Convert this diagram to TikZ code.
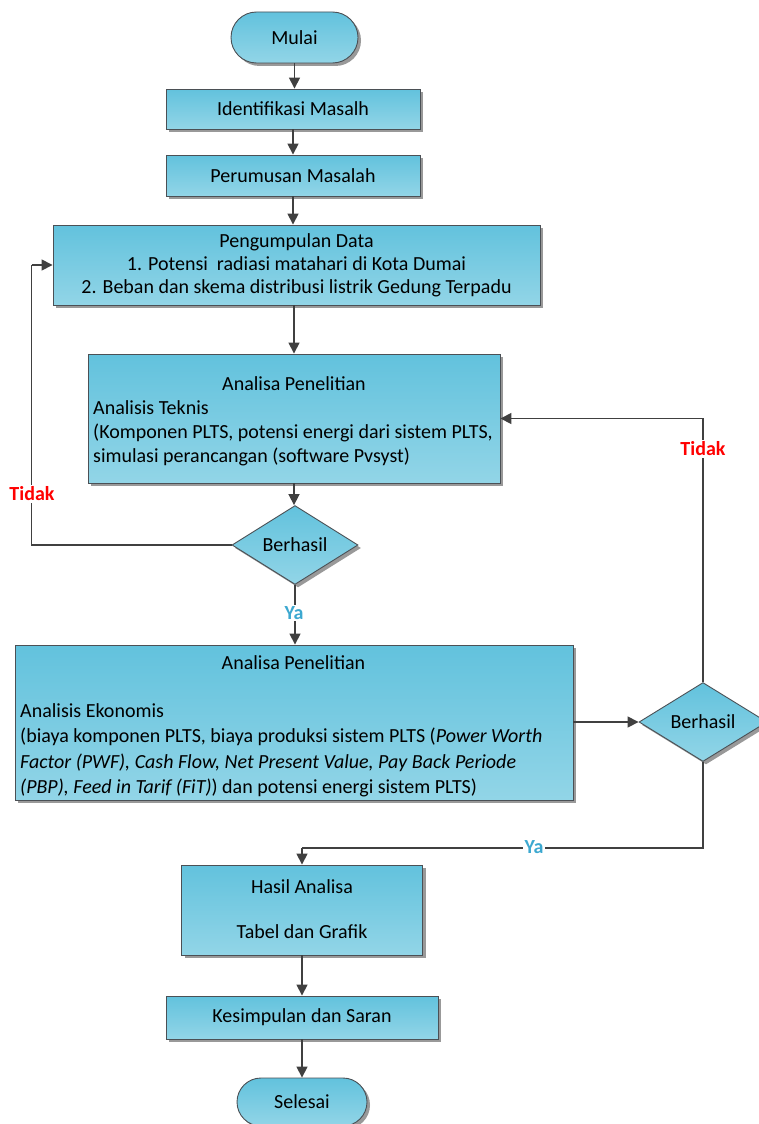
\documentclass[tikz,border=0pt]{standalone}
\usepackage{fontspec}
\setmainfont{Carlito}
\usetikzlibrary{shapes.geometric,shapes.misc,shadows,arrows.meta}
\definecolor{boxtop}{RGB}{98,194,221}
\definecolor{boxbot}{RGB}{146,213,231}
\definecolor{edgecol}{RGB}{75,80,85}
\definecolor{arrcol}{RGB}{64,64,64}
\definecolor{yacol}{RGB}{60,168,208}
\tikzset{
  fc/.style={draw=edgecol, line width=0.9pt, top color=boxtop, bottom color=boxbot,
    drop shadow={shadow xshift=3pt, shadow yshift=-3pt, fill=black!40, opacity=1},
    inner sep=0pt, font=\fontsize{20}{23}\selectfont, align=center},
  procbox/.style={fc, rectangle},
  term/.style={fc, rounded rectangle},
  decide/.style={fc, diamond},
  txt/.style={inner sep=0pt, font=\fontsize{20}{23}\selectfont},
  flow/.style={draw=arrcol, line width=1.6pt, -{Triangle[length=11pt,width=11pt]}},
  link/.style={draw=arrcol, line width=1.6pt},
  nolabel/.style={text=red, font=\fontsize{20}{22}\selectfont\bfseries, fill=white, inner sep=1.5pt},
  yeslabel/.style={text=yacol, font=\fontsize{20}{22}\selectfont\bfseries, fill=white, inner sep=1.5pt},
}
\begin{document}
\begin{tikzpicture}[x=1pt,y=-1pt]
\useasboundingbox (0,0) rectangle (758,1124);

% nodes
\node[term, minimum width=127pt, minimum height=51pt] (mulai) at (294.5,37.5) {Mulai};
\node[procbox, minimum width=254pt, minimum height=40pt] (ident) at (293,109) {Identifikasi Masalh};
\node[procbox, minimum width=254pt, minimum height=41pt] (rumus) at (293,175.5) {Perumusan Masalah};
\node[procbox, minimum width=487pt, minimum height=80pt] (peng) at (296.5,265)
  {Pengumpulan Data\\1. Potensi\ \ radiasi matahari di Kota Dumai\\2. Beban dan skema distribusi listrik Gedung Terpadu};

\node[procbox, minimum width=412pt, minimum height=129pt] (a1) at (294,418.5) {};
\node[txt, anchor=base] (a1t) at (294,390) {Analisa Penelitian};
\node[txt, anchor=base west] (a1l1) at (93,414) {Analisis Teknis};
\node[txt, anchor=base west] (a1l2) at (93,438) {(Komponen PLTS, potensi energi dari sistem PLTS,};
\node[txt, anchor=base west] (a1l3) at (93,462) {simulasi perancangan (software Pvsyst)};

\node[decide, minimum width=126pt, minimum height=75pt] (d1) at (295,545) {Berhasil};

\node[procbox, minimum width=558pt, minimum height=155pt] (a2) at (294,722.5) {};
\node[txt, anchor=base] (a2t) at (293.5,669) {Analisa Penelitian};
\node[txt, anchor=base west] (a2l1) at (20,717) {Analisis Ekonomis};
\node[txt, anchor=base west] (a2l2) at (20,742.5) {(biaya komponen PLTS, biaya produksi sistem PLTS (\textit{Power Worth}};
\node[txt, anchor=base west] (a2l3) at (20,768) {\textit{Factor (PWF), Cash Flow, Net Present Value, Pay Back Periode}};
\node[txt, anchor=base west] (a2l4) at (20,793.5) {\textit{(PBP), Feed in Tarif (FiT)}) dan potensi energi sistem PLTS)};

\node[decide, minimum width=128pt, minimum height=76pt] (d2) at (703,722) {Berhasil};

\node[procbox, minimum width=241pt, minimum height=90pt] (hasil) at (302,910) {};
\node[txt, anchor=center] (hasilt) at (302,887) {Hasil Analisa};
\node[txt, anchor=center] (hasilg) at (302,932) {Tabel dan Grafik};

\node[procbox, minimum width=272pt, minimum height=43pt] (kesimp) at (302,1017.5) {Kesimpulan dan Saran};
\node[term, minimum width=130pt, minimum height=48pt] (selesai) at (302,1102) {Selesai};

\coordinate (ya2) at (302,848);

% connectors
\draw[flow] (mulai.south) -- (mulai.south |- ident.north);
\draw[flow] (ident.south) -- (rumus.north);
\draw[flow] (rumus.south) -- (rumus.south |- peng.north);
\draw[flow] (a1.north |- peng.south) -- (a1.north);
\draw[flow] (a1.south) -- (a1.south |- d1.north);
\draw[link] (d1.west) -| ([xshift=-21pt]peng.west) coordinate (tk1);
\draw[flow] (tk1) -- (peng.west);
\draw[flow] (d1.south) -- (d1.south |- a2.north);
\draw[flow] (a2.east |- d2.west) -- (d2.west);
\draw[link] (d2.north) |- ([xshift=12pt]a1.east) coordinate (tk2);
\draw[flow] (tk2) -- (a1.east);
\draw[link] (d2.south) |- (ya2);
\draw[flow] (ya2) -- (hasil.north);
\draw[flow] (hasil.south) -- (kesimp.north);
\draw[flow] (kesimp.south) -- (selesai.north);

% labels
\node[nolabel] (tidak1) at (32,494) {Tidak};
\node[nolabel] (tidak2) at (703,449) {Tidak};
\node[yeslabel] (ya1) at (294,613) {Ya};
\node[yeslabel] (ya2l) at (534,847) {Ya};
\end{tikzpicture}
\end{document}
